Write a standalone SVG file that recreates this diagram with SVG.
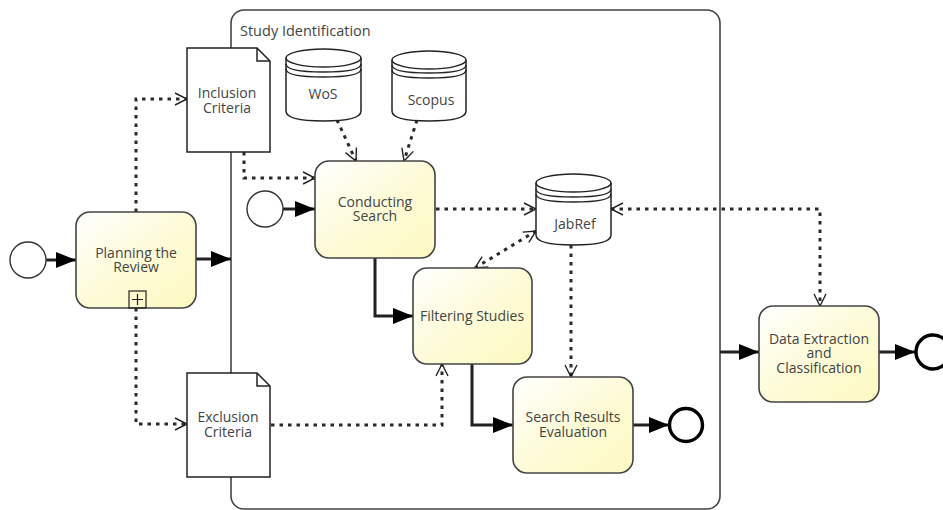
<svg xmlns="http://www.w3.org/2000/svg" width="943" height="510" viewBox="0 0 943 510">
<style>
text{font-family:"Open Sans","DejaVu Sans",sans-serif;font-size:14px;fill:#444;text-anchor:middle}
.task{fill:url(#g);stroke:#444;stroke-width:1.6}
.plain{fill:#fff;stroke:#222;stroke-width:1.5}
.ev{fill:#fff;stroke:#333;stroke-width:1.4}
.end{fill:#fff;stroke:#000;stroke-width:3.4}
.flow{fill:none;stroke:#222;stroke-width:3;marker-end:url(#solid)}
.assoc{fill:none;stroke:#2a2a2a;stroke-width:3;stroke-dasharray:3.500 5;marker-end:url(#open)}
.assoc2{marker-start:url(#openS)}
</style>
<defs>
<linearGradient id="g" x1="0" y1="0" x2="1" y2="1"><stop offset="0" stop-color="#ffffff"/><stop offset=".5" stop-color="#fdfbd8"/><stop offset="1" stop-color="#fdf9c2"/></linearGradient>
<marker id="solid" markerUnits="userSpaceOnUse" markerWidth="22" markerHeight="18" refX="20" refY="8" orient="auto"><path d="M0 0L20 8L0 16Z" fill="#000"/></marker>
<marker id="open" markerUnits="userSpaceOnUse" markerWidth="16" markerHeight="16" refX="13" refY="7" orient="auto"><path d="M1 1L13 7L1 13" fill="none" stroke="#222" stroke-width="1.4" stroke-dasharray="none"/></marker>
<marker id="openS" markerUnits="userSpaceOnUse" markerWidth="16" markerHeight="16" refX="1" refY="7" orient="auto"><path d="M13 1L1 7L13 13" fill="none" stroke="#222" stroke-width="1.4" stroke-dasharray="none"/></marker>
</defs>
<g id="study-identification"><rect x="231" y="10" width="489" height="499" rx="13" fill="#fff" stroke="#444" stroke-width="1.6"/><text x="240" y="36" style="text-anchor:start;font-size:14.500px">Study Identification</text></g>
<g id="connectors">
<path class="flow" d="M46 260H76"/>
<path class="flow" d="M196 259H231"/>
<path class="flow" d="M283 209H315"/>
<path class="flow" d="M375 258V316H413"/>
<path class="flow" d="M472 364V425H513"/>
<path class="flow" d="M633 425H669"/>
<path class="flow" d="M720 352H759"/>
<path class="flow" d="M879 352H915"/>
<path class="assoc" d="M136 212V99H187"/>
<path class="assoc" d="M136 308V424H187"/>
<path class="assoc" d="M244 152V178H315"/>
<path class="assoc" d="M337 120L356 161"/>
<path class="assoc" d="M417 120L404 161"/>
<path class="assoc" d="M436 209H536"/>
<path class="assoc assoc2" d="M611 209H820V306"/>
<path class="assoc assoc2" d="M475 268L536 231"/>
<path class="assoc" d="M571 245V377"/>
<path class="assoc" d="M271 425H442V364"/>
</g>
<g id="start-1"><circle class="ev" cx="28" cy="260" r="18"/></g>
<g id="planning"><rect class="task" x="76" y="212" width="120" height="96" rx="14"/><text x="136" y="258">Planning the</text><text x="136" y="272">Review</text><rect x="129" y="291" width="17" height="17" fill="none" stroke="#222" stroke-width="1.2"/><path d="M137.500 294V305M132 299.500H143" stroke="#222" stroke-width="1.2"/></g>
<g id="inclusion"><path class="plain" d="M187 48H257L270 61V152H187Z"/><path class="plain" d="M257 48V61H270" style="fill:none"/><text x="227" y="98">Inclusion</text><text x="227" y="113">Criteria</text></g>
<g id="exclusion"><path class="plain" d="M187 373H257L270 386V477H187Z"/><path class="plain" d="M257 373V386H270" style="fill:none"/><text x="228" y="422">Exclusion</text><text x="228" y="437">Criteria</text></g>
<g id="wos"><path class="plain" d="M286 58V111Q286 121 323.500 121T361 111V58"/><ellipse class="plain" cx="323.500" cy="58" rx="37.500" ry="9"/><path class="plain" d="M286 64Q286 72 323.500 72T361 64M286 69Q286 77 323.500 77T361 69" style="fill:none"/><text x="323" y="99">WoS</text></g>
<g id="scopus"><path class="plain" d="M392 60V111Q392 121 429 121T466 111V60"/><ellipse class="plain" cx="429" cy="60" rx="37" ry="9"/><path class="plain" d="M392 65Q392 73 429 73T466 65M392 70Q392 78 429 78T466 70" style="fill:none"/><text x="431" y="105">Scopus</text></g>
<g id="jabref"><path class="plain" d="M536 183V235Q536 245 573.500 245T611 235V183"/><ellipse class="plain" cx="573.500" cy="183" rx="37.500" ry="9"/><path class="plain" d="M536 189Q536 197 573.500 197T611 189M536 194Q536 202 573.500 202T611 194" style="fill:none"/><text x="575" y="229">JabRef</text></g>
<g id="start-2"><circle class="ev" cx="265" cy="209" r="18"/></g>
<g id="conducting"><rect class="task" x="315" y="161" width="120" height="97" rx="14"/><text x="375" y="207">Conducting</text><text x="375" y="221">Search</text></g>
<g id="filtering"><rect class="task" x="413" y="268" width="119" height="96" rx="14"/><text x="472" y="321">Filtering Studies</text></g>
<g id="evaluation"><rect class="task" x="513" y="377" width="120" height="96" rx="14"/><text x="573" y="422">Search Results</text><text x="573" y="437">Evaluation</text></g>
<g id="end-1"><circle class="end" cx="686" cy="425" r="16.500"/></g>
<g id="extraction"><rect class="task" x="759" y="306" width="120" height="96" rx="14"/><text x="819" y="344">Data Extraction</text><text x="819" y="358">and</text><text x="819" y="373">Classification</text></g>
<g id="end-2"><circle class="end" cx="933" cy="352" r="17"/></g>
</svg>
